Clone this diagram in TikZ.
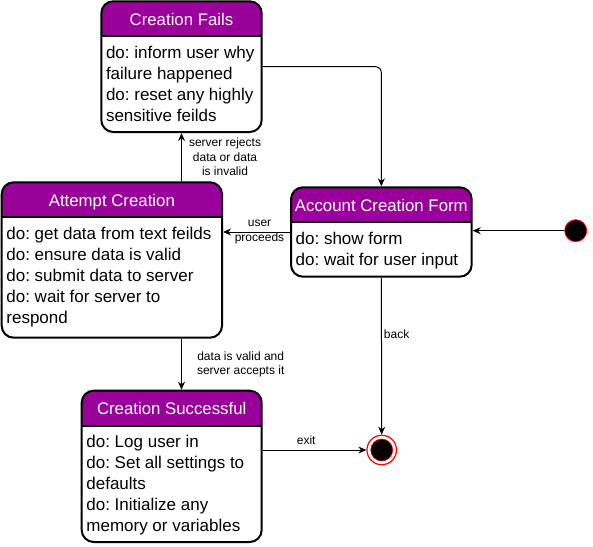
\documentclass[tikz,border=0pt]{standalone}
\usepackage{fontspec}
\setmainfont{Liberation Sans}
\frenchspacing
\usetikzlibrary{arrows.meta}
\definecolor{hdrpurple}{HTML}{990099}
\definecolor{dotred}{HTML}{FF0000}
\tikzset{
  state/.style={draw, line width=2pt, rounded corners=12pt, fill=white, inner sep=0pt,
    path picture={
      \fill[hdrpurple, sharp corners] (path picture bounding box.north west) rectangle ([yshift=-35pt]path picture bounding box.north east);
      \draw[line width=2pt, sharp corners] ([yshift=-35pt]path picture bounding box.north west) -- ([yshift=-35pt]path picture bounding box.north east);
    }},
  ttl/.style={text=white, font=\fontsize{16.8}{20}\selectfont, text height=12pt, text depth=0pt, inner sep=0pt},
  body/.style={anchor=north west, align=left, inner sep=0pt, font=\fontsize{17}{21}\selectfont},
  lbl/.style={font=\fontsize{12}{14.5}\selectfont, align=center, inner sep=0pt},
  arr/.style={-{Stealth[length=8pt,width=7pt]}, line width=1pt},
}
\begin{document}
\begin{tikzpicture}[x=1pt, y=-1pt]
  \useasboundingbox (0,0) rectangle (593,546);
  \node[state, minimum width=160.4pt, minimum height=130.7pt] (fails) at (181.5,66.65) {};
  \node[ttl] (fails-t) at ([yshift=-19pt]fails.north) {Creation Fails};
  \node[body] (fails-do) at ([xshift=5.5pt,yshift=-43.6pt]fails.north west) {\rule{0pt}{14pt}do: inform user why\\failure happened\\do: reset any highly\\sensitive feilds};
  \node[state, minimum width=220.3pt, minimum height=155.4pt] (attempt) at (111.85,260) {};
  \node[ttl] (attempt-t) at ([yshift=-19pt]attempt.north) {Attempt Creation};
  \node[body] (attempt-do) at ([xshift=5.5pt,yshift=-43.6pt]attempt.north west) {\rule{0pt}{14pt}do: get data from text feilds\\do: ensure data is valid\\do: submit data to server\\do: wait for server to\\respond};
  \node[state, minimum width=180.7pt, minimum height=89.4pt] (form) at (381.35,232) {};
  \node[ttl] (form-t) at ([yshift=-19pt]form.north) {Account Creation Form};
  \node[body] (form-do) at ([xshift=5.5pt,yshift=-43.6pt]form.north west) {\rule{0pt}{14pt}do: show form\\do: wait for user input};
  \node[state, minimum width=180pt, minimum height=151.3pt] (success) at (171.7,466.35) {};
  \node[ttl] (success-t) at ([yshift=-19pt]success.north) {Creation Successful};
  \node[body] (success-do) at ([xshift=5.5pt,yshift=-43.6pt]success.north west) {\rule{0pt}{14pt}do: Log user in\\do: Set all settings to\\defaults\\do: Initialize any\\memory or variables};
  \node[circle, fill=black, draw=dotred, line width=0.8pt, minimum size=22pt, inner sep=0pt] (init) at (575.7,230.7) {};
  \node[circle, draw=dotred, line width=1.2pt, minimum size=29.5pt, inner sep=0pt] (final) at (381.7,450) {};
  \filldraw[fill=black, draw=dotred, line width=0.6pt] (final.center) circle (11pt);
  \draw[arr, rounded corners=6pt] (fails.east) -| (form.north);
  \draw[arr] (fails.south |- attempt.north) -- node[lbl, right=7pt]{server rejects\\data or data\\is invalid} (fails.south);
  \draw[arr] (form.west) -- node[lbl, xshift=3pt]{user\\proceeds} (form.west -| attempt.east);
  \draw[arr] (init) -- (init -| form.east);
  \draw[arr] (fails.south |- attempt.south) -- node[lbl, right=15pt]{data is valid and\\server accepts it} (fails.south |- success.north);
  \draw[arr] (form.south) -- node[lbl, right=2pt, pos=0.36]{back} (final.north);
  \draw[arr] (success.east |- final.west) -- node[lbl, above=5pt, pos=0.42]{exit} (final.west);
\end{tikzpicture}
\end{document}
